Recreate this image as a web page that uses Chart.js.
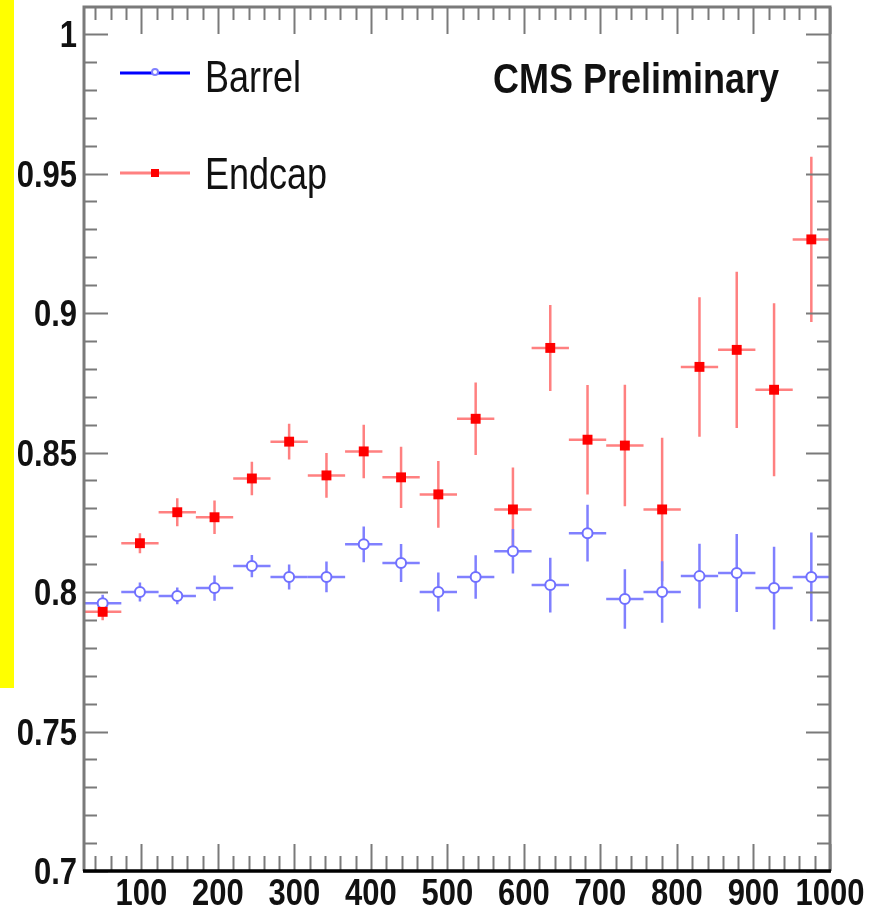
<!DOCTYPE html>
<html>
<head>
<meta charset="utf-8">
<script src="https://cdn.jsdelivr.net/npm/chart.js@4.4.1/dist/chart.umd.min.js"></script>
<style>
  body { margin: 0; background: #fff; }
  canvas { display: block; }
</style>
</head>
<body>
<canvas id="effChart" width="876" height="912"></canvas>
<script>
// bin centres (GeV), 20 bins from 25 to 1000
const binCenters = [49.4, 98.1, 146.9, 195.6, 244.4, 293.1, 341.9, 390.6, 439.4, 488.1,
                    536.9, 585.6, 634.4, 683.1, 731.9, 780.6, 829.4, 878.1, 926.9, 975.6];
const binHalfWidth = 24.4;

const barrelEff = [0.796, 0.800, 0.7986, 0.8014, 0.8093, 0.8054, 0.8054, 0.8171, 0.8104, 0.800,
                   0.8054, 0.8146, 0.8025, 0.8211, 0.7975, 0.800, 0.8057, 0.8068, 0.8014, 0.8054];
const barrelErr = [0.003, 0.0034, 0.003, 0.0045, 0.004, 0.0045, 0.0055, 0.0064, 0.0068, 0.007,
                   0.0078, 0.008, 0.0098, 0.0102, 0.0107, 0.011, 0.0116, 0.014, 0.0148, 0.0159];

const endcapEff = [0.7929, 0.8175, 0.8286, 0.8268, 0.8407, 0.8539, 0.8418, 0.8504, 0.8411, 0.835,
                   0.8621, 0.8296, 0.8875, 0.8546, 0.8525, 0.8296, 0.8807, 0.8868, 0.8725, 0.9264];
const endcapErr = [0.003, 0.0036, 0.005, 0.006, 0.006, 0.0064, 0.008, 0.0096, 0.011, 0.012,
                   0.013, 0.015, 0.0154, 0.0196, 0.0218, 0.0257, 0.025, 0.028, 0.031, 0.0296];

const xTickLabels = ['100', '200', '300', '400', '500', '600', '700', '800', '900', '1000'];
const yTickLabels = ['0.7', '0.75', '0.8', '0.85', '0.9', '0.95', '1'];

const toPoints = (vals) => vals.map((v, i) => ({ x: binCenters[i], y: v }));

// draws text stretched vertically, like the original ROOT picture
function stretchText(ctx, text, x, y, font, align, sy) {
    ctx.save();
    ctx.font = font;
    ctx.textAlign = align;
    ctx.textBaseline = 'alphabetic';
    ctx.translate(x, y);
    ctx.scale(1, sy);
    ctx.fillText(text, 0, 0);
    ctx.restore();
}

// error bars drawn under the markers
const errorBars = {
    id: 'errorBars',
    beforeDatasetsDraw(chart) {
        const { ctx, scales: { x, y } } = chart;
        chart.data.datasets.forEach(ds => {
            ctx.save();
            ctx.strokeStyle = ds.barColor;
            ctx.lineWidth = 2.5;
            ds.data.forEach((p, i) => {
                const px = x.getPixelForValue(p.x);
                const py = y.getPixelForValue(p.y);
                const g = ds.barGap;
                const x0 = x.getPixelForValue(p.x - binHalfWidth);
                const x1 = x.getPixelForValue(p.x + binHalfWidth);
                const y0 = y.getPixelForValue(p.y + ds.errors[i]);
                const y1 = y.getPixelForValue(p.y - ds.errors[i]);
                ctx.beginPath();
                ctx.moveTo(x0, py); ctx.lineTo(px - g, py);
                ctx.moveTo(px + g, py); ctx.lineTo(x1, py);
                ctx.moveTo(px, y0); ctx.lineTo(px, py - g);
                ctx.moveTo(px, py + g); ctx.lineTo(px, y1);
                ctx.stroke();
            });
            ctx.restore();
        });
    }
};

// frame, inner ticks, labels, legend and the yellow strip
const decorations = {
    id: 'decorations',
    beforeDraw(chart) {
        const ctx = chart.ctx;
        ctx.save();
        ctx.fillStyle = '#ffff00';
        ctx.fillRect(0, 0, 14, 688);
        ctx.restore();
    },
    afterDraw(chart) {
        const { ctx, chartArea: a, scales: { x, y } } = chart;
        ctx.save();
        ctx.strokeStyle = '#7a7a7a';
        ctx.lineWidth = 2;

        // y ticks every 0.01, major every 0.05 (left and right sides)
        for (let i = 70; i <= 100; i++) {
            const py = Math.round(y.getPixelForValue(i / 100)) + 0.5;
            const len = i % 5 === 0 ? 24 : 13;
            ctx.beginPath();
            ctx.moveTo(a.left, py); ctx.lineTo(a.left + len, py);
            ctx.moveTo(a.right, py); ctx.lineTo(a.right - len, py);
            ctx.stroke();
        }
        // x ticks every 20, major every 100 (bottom and top)
        for (let v = 40; v <= 1000; v += 20) {
            const px = Math.round(x.getPixelForValue(v)) + 0.5;
            const len = v % 100 === 0 ? 27 : 15;
            ctx.beginPath();
            ctx.moveTo(px, a.bottom); ctx.lineTo(px, a.bottom - len);
            ctx.moveTo(px, a.top); ctx.lineTo(px, a.top + (v % 100 === 0 ? 27 : 13));
            ctx.stroke();
        }

        // frame
        ctx.lineWidth = 3;
        ctx.beginPath();
        ctx.moveTo(a.left, a.bottom); ctx.lineTo(a.left, a.top);
        ctx.lineTo(a.right, a.top); ctx.lineTo(a.right, a.bottom);
        ctx.stroke();
        ctx.strokeStyle = '#000';
        ctx.lineWidth = 3.5;
        ctx.beginPath();
        ctx.moveTo(a.left - 1, a.bottom); ctx.lineTo(a.right + 1, a.bottom);
        ctx.stroke();

        // tick labels
        ctx.fillStyle = '#111';
        const tickFont = 'bold 31px "Liberation Sans", Arial, sans-serif';
        yTickLabels.forEach(t => {
            const py = y.getPixelForValue(parseFloat(t));
            stretchText(ctx, t, 77, py + 13, tickFont, 'right', 1.18);
        });
        xTickLabels.forEach(t => {
            const px = x.getPixelForValue(parseFloat(t));
            stretchText(ctx, t, px, 905, tickFont, 'center', 1.22);
        });

        // CMS label
        stretchText(ctx, 'CMS Preliminary', 493, 93, 'bold 36px "Liberation Sans", Arial, sans-serif', 'left', 1.2);

        // legend
        const legFont = '36px "Liberation Sans", Arial, sans-serif';
        ctx.lineWidth = 3;
        ctx.strokeStyle = '#0000ff';
        ctx.beginPath(); ctx.moveTo(120, 73); ctx.lineTo(190, 73); ctx.stroke();
        ctx.fillStyle = '#fff';
        ctx.strokeStyle = '#8080ff';
        ctx.lineWidth = 2;
        ctx.beginPath(); ctx.arc(155, 72, 3, 0, Math.PI * 2); ctx.fill(); ctx.stroke();

        ctx.strokeStyle = '#ff8080';
        ctx.lineWidth = 3;
        ctx.beginPath(); ctx.moveTo(120, 173); ctx.lineTo(190, 173); ctx.stroke();
        ctx.fillStyle = '#ff0000';
        ctx.fillRect(151, 169, 8, 8);

        ctx.fillStyle = '#111';
        stretchText(ctx, 'Barrel', 205, 92, legFont, 'left', 1.25);
        stretchText(ctx, 'Endcap', 205, 189, legFont, 'left', 1.25);
        ctx.restore();
    }
};

const ctx = document.getElementById('effChart').getContext('2d');
const effChart = new Chart(ctx, {
    type: 'scatter',
    data: {
        datasets: [
            {
                label: 'Endcap',
                data: toPoints(endcapEff),
                errors: endcapErr,
                barColor: '#ff8080',
                barGap: 0,
                pointStyle: 'rect',
                pointRadius: 7,
                pointBackgroundColor: '#ff0000',
                pointBorderColor: '#ff0000',
                pointBorderWidth: 0
            },
            {
                label: 'Barrel',
                data: toPoints(barrelEff),
                errors: barrelErr,
                barColor: '#8080ff',
                barGap: 5,
                pointStyle: 'circle',
                pointRadius: 5,
                pointBackgroundColor: '#ffffff',
                pointBorderColor: '#7070ff',
                pointBorderWidth: 2
            }
        ]
    },
    options: {
        responsive: false,
        animation: false,
        devicePixelRatio: 1,
        layout: { padding: { left: 84, right: 46, top: 6, bottom: 41 } },
        plugins: {
            legend: { display: false },
            tooltip: { enabled: false }
        },
        scales: {
            x: { type: 'linear', min: 25, max: 1000, display: false },
            y: { type: 'linear', min: 0.7, max: 1.0097, display: false }
        }
    },
    plugins: [errorBars, decorations]
});
</script>
</body>
</html>
